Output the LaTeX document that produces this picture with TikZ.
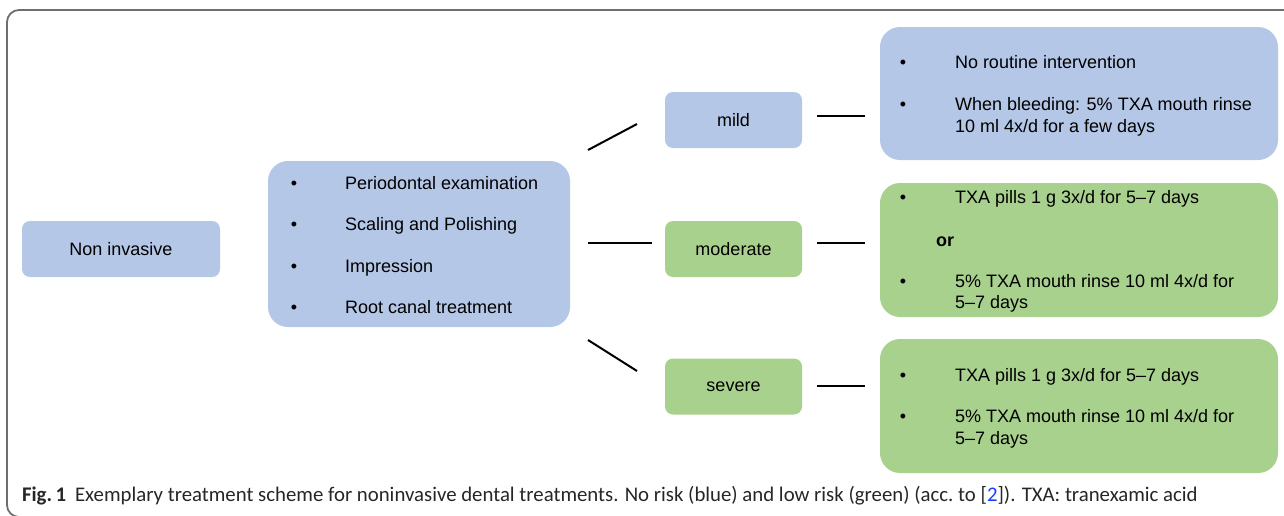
\documentclass[tikz,border=0pt]{standalone}
\usepackage{fontspec}
\setmainfont{Liberation Sans}
\newfontfamily\capfont{Carlito}
\definecolor{nrblue}{HTML}{B4C7E7}
\definecolor{lrgreen}{HTML}{A9D18E}
\definecolor{framegray}{HTML}{6E6E6E}
\definecolor{refblue}{HTML}{1A3CFF}
\begin{document}
\begin{tikzpicture}[x=1pt,y=-1pt,
  every node/.style={inner sep=0pt,outer sep=0pt},
  smallbox/.style={rounded corners=8pt,minimum width=137pt,minimum height=56pt},
  bigbox/.style={rounded corners=20pt},
  blue box/.style={fill=nrblue},
  green box/.style={fill=lrgreen},
  label/.style={font=\fontsize{18}{21}\selectfont,text=black},
  item/.style={font=\fontsize{18}{21}\selectfont,anchor=base west,text=black},
  dot/.style={font=\fontsize{18}{21}\selectfont,anchor=base,text=black},
  link/.style={line width=2pt,black}]
\useasboundingbox (0,0) rectangle (1284,515);
\clip (0,0) rectangle (1284,515);

% outer frame (open to the right and bottom)
\draw[framegray,line width=1.8pt,rounded corners=12pt] (1300,10) -- (7,10) -- (7,517) -- (1300,517);

% first column
\node[blue box,rounded corners=8pt,minimum width=198pt,minimum height=56pt] (noninv) at (121,249) {};
\node[label] (noninvtxt) at (noninv.center) {Non invasive};

% list of procedures
\path[blue box,bigbox] (268,161) rectangle (570,327);
\node[dot] (pb1) at (294,189) {•};
\node[item] (p1) at (345,189) {Periodontal examination};
\node[dot] (pb2) at (294,230) {•};
\node[item] (p2) at (345,230) {Scaling and Polishing};
\node[dot] (pb3) at (294,272) {•};
\node[item] (p3) at (345,272) {Impression};
\node[dot] (pb4) at (294,313) {•};
\node[item] (p4) at (345,313) {Root canal treatment};

% risk levels
\node[smallbox,blue box] (mild) at (733.5,120) {};
\node[label] (mildtxt) at (mild.center) {mild};
\node[smallbox,green box] (moderate) at (733.5,249) {};
\node[label] (moderatetxt) at (moderate.center) {moderate};
\node[smallbox,green box] (severe) at (733.5,386.5) {};
\node[label] (severetxt) at (severe.center) {severe};

% connectors from the procedure list to the risk levels
\coordinate (a1) at (588,150); \coordinate (a2) at (637,124);
\coordinate (b1) at (588,243); \coordinate (b2) at (652,243);
\coordinate (c1) at (588,340); \coordinate (c2) at (637,371);
\draw[link] (a1) -- (a2);
\draw[link] (b1) -- (b2);
\draw[link] (c1) -- (c2);

% connectors from the risk levels to the measures
\coordinate (d1) at (817,116); \coordinate (d2) at (865,116);
\coordinate (e1) at (817,243); \coordinate (e2) at (865,243);
\coordinate (f1) at (817,386); \coordinate (f2) at (865,386);
\draw[link] (d1) -- (d2);
\draw[link] (e1) -- (e2);
\draw[link] (f1) -- (f2);

% measures: mild
\path[blue box,bigbox] (880,27) rectangle (1278,160);
\node[dot] (mb1) at (903,68) {•};
\node[item] (m1) at (955,68) {No routine intervention};
\node[dot] (mb2) at (903,110) {•};
\node[item] (m2) at (955,110) {When bleeding: 5\% TXA mouth rinse};
\node[item] (m2b) at (955,132) {10 ml 4x/d for a few days};

% measures: moderate
\path[green box,bigbox] (880,183) rectangle (1278,317);
\node[dot] (ob1) at (903,203) {•};
\node[item] (o1) at (955,203) {TXA pills 1 g 3x/d for 5–7 days};
\node[item,font=\fontsize{18}{21}\selectfont\bfseries] (oor) at (936,246) {or};
\node[dot] (ob2) at (903,287) {•};
\node[item] (o2) at (955,287) {5\% TXA mouth rinse 10 ml 4x/d for};
\node[item] (o2b) at (955,308) {5–7 days};

% measures: severe
\path[green box,bigbox] (880,339) rectangle (1278,473);
\node[dot] (sb1) at (903,381) {•};
\node[item] (s1) at (955,381) {TXA pills 1 g 3x/d for 5–7 days};
\node[dot] (sb2) at (903,422) {•};
\node[item] (s2) at (955,422) {5\% TXA mouth rinse 10 ml 4x/d for};
\node[item] (s2b) at (955,444) {5–7 days};

% caption
\node[anchor=base west,font=\capfont\fontsize{20.8}{24}\selectfont,text=black!85] (caption) at (22,501)
  {\textbf{Fig.\,1}\hspace{9pt}Exemplary treatment scheme for noninvasive dental treatments. No risk (blue) and low risk (green) (acc.~to [{\color{refblue}2}]). TXA: tranexamic acid};
\end{tikzpicture}
\end{document}
